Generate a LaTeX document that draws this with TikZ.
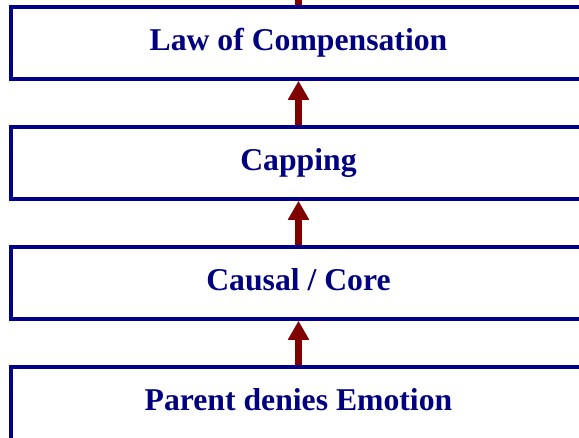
\documentclass[tikz,border=0pt]{standalone}
\usepackage{fontspec}
\setmainfont{Liberation Serif}
\usetikzlibrary{arrows.meta}
\definecolor{boxblue}{RGB}{0,0,140}
\definecolor{textnavy}{RGB}{0,0,128}
\definecolor{arrowred}{RGB}{128,0,0}
\begin{document}
\begin{tikzpicture}[x=1pt,y=1pt,
  stepbox/.style={draw=boxblue, line width=3.5pt, fill=white, rectangle,
    minimum width=575pt, minimum height=72pt, inner sep=0pt,
    text height=24pt, text depth=10pt, text=textnavy,
    font=\fontsize{31.7}{38}\selectfont\bfseries},
  uparrow/.style={draw=arrowred, line width=6.5pt,
    -{Triangle[width=20pt,length=19pt]}},
  stub/.style={draw=arrowred, line width=6.5pt}]
\useasboundingbox (0,0) rectangle (579,-437);
\node[stepbox] (law) at (298.5,-43) {Law of Compensation};
\node[stepbox] (cap) at (298.5,-163) {Capping};
\node[stepbox] (core) at (298.5,-283) {Causal / Core};
\node[stepbox, minimum height=80pt, text height=20pt, text depth=14pt]
  (parent) at (298.5,-407) {Parent denies Emotion};
\coordinate (topend) at (298.5,2);
\draw[stub] (law.north) -- (topend);
\draw[uparrow] (cap.north) -- (law.south);
\draw[uparrow] (core.north) -- (cap.south);
\draw[uparrow] (parent.north) -- (core.south);
\end{tikzpicture}
\end{document}
